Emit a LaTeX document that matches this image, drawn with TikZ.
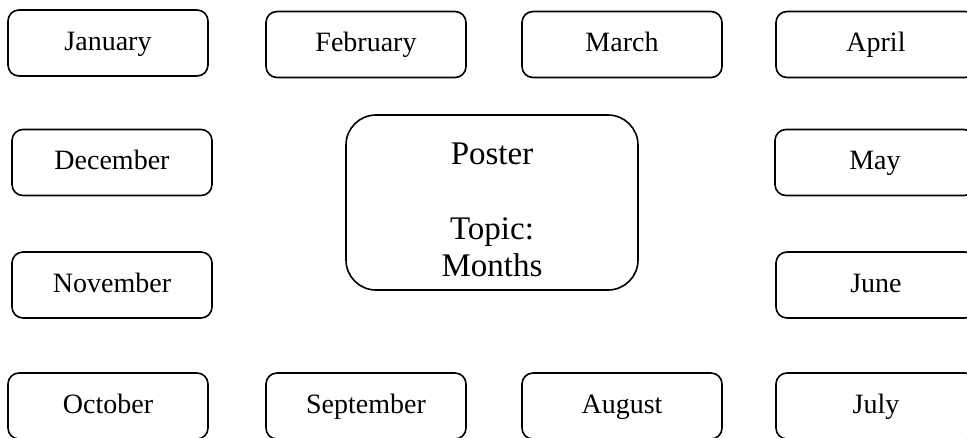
\documentclass[tikz,border=0pt]{standalone}
\usepackage{fontspec}
\setmainfont{Liberation Serif}
\tikzset{
  monthbox/.style={draw, line width=1.6pt, rounded corners=11pt, minimum width=200pt, minimum height=66pt, inner sep=0pt, text height=20pt, text depth=6pt, font=\fontsize{28}{32}\selectfont},
  posterbox/.style={draw, line width=1.6pt, rounded corners=30pt, minimum width=292pt, minimum height=175pt, inner sep=0pt},
  postertext/.style={align=center, inner sep=0pt, font=\fontsize{33}{37}\selectfont}
}
\begin{document}
\begin{tikzpicture}[x=1pt,y=-1pt]
\useasboundingbox (0,0) rectangle (967,437);
\clip (0,0) rectangle (967,437);
\node[monthbox] (jan) at (108,43) {January};
\node[monthbox] (feb) at (366,44.5) {February};
\node[monthbox] (mar) at (622,44.5) {March};
\node[monthbox] (apr) at (876,44.5) {April};
\node[monthbox] (dec) at (112,162.5) {December};
\node[monthbox] (nov) at (112,285) {November};
\node[monthbox] (may) at (875,162.5) {May};
\node[monthbox] (jun) at (876,285) {June};
\node[monthbox] (oct) at (108,406) {October};
\node[monthbox] (sep) at (366,406) {September};
\node[monthbox] (aug) at (622,406) {August};
\node[monthbox] (jul) at (876,406) {July};
\node[posterbox] (poster) at (492,202.5) {};
\node[postertext, anchor=base] (postertitle) at (492,276) {Poster\\[38pt]Topic:\\Months};
\end{tikzpicture}
\end{document}
